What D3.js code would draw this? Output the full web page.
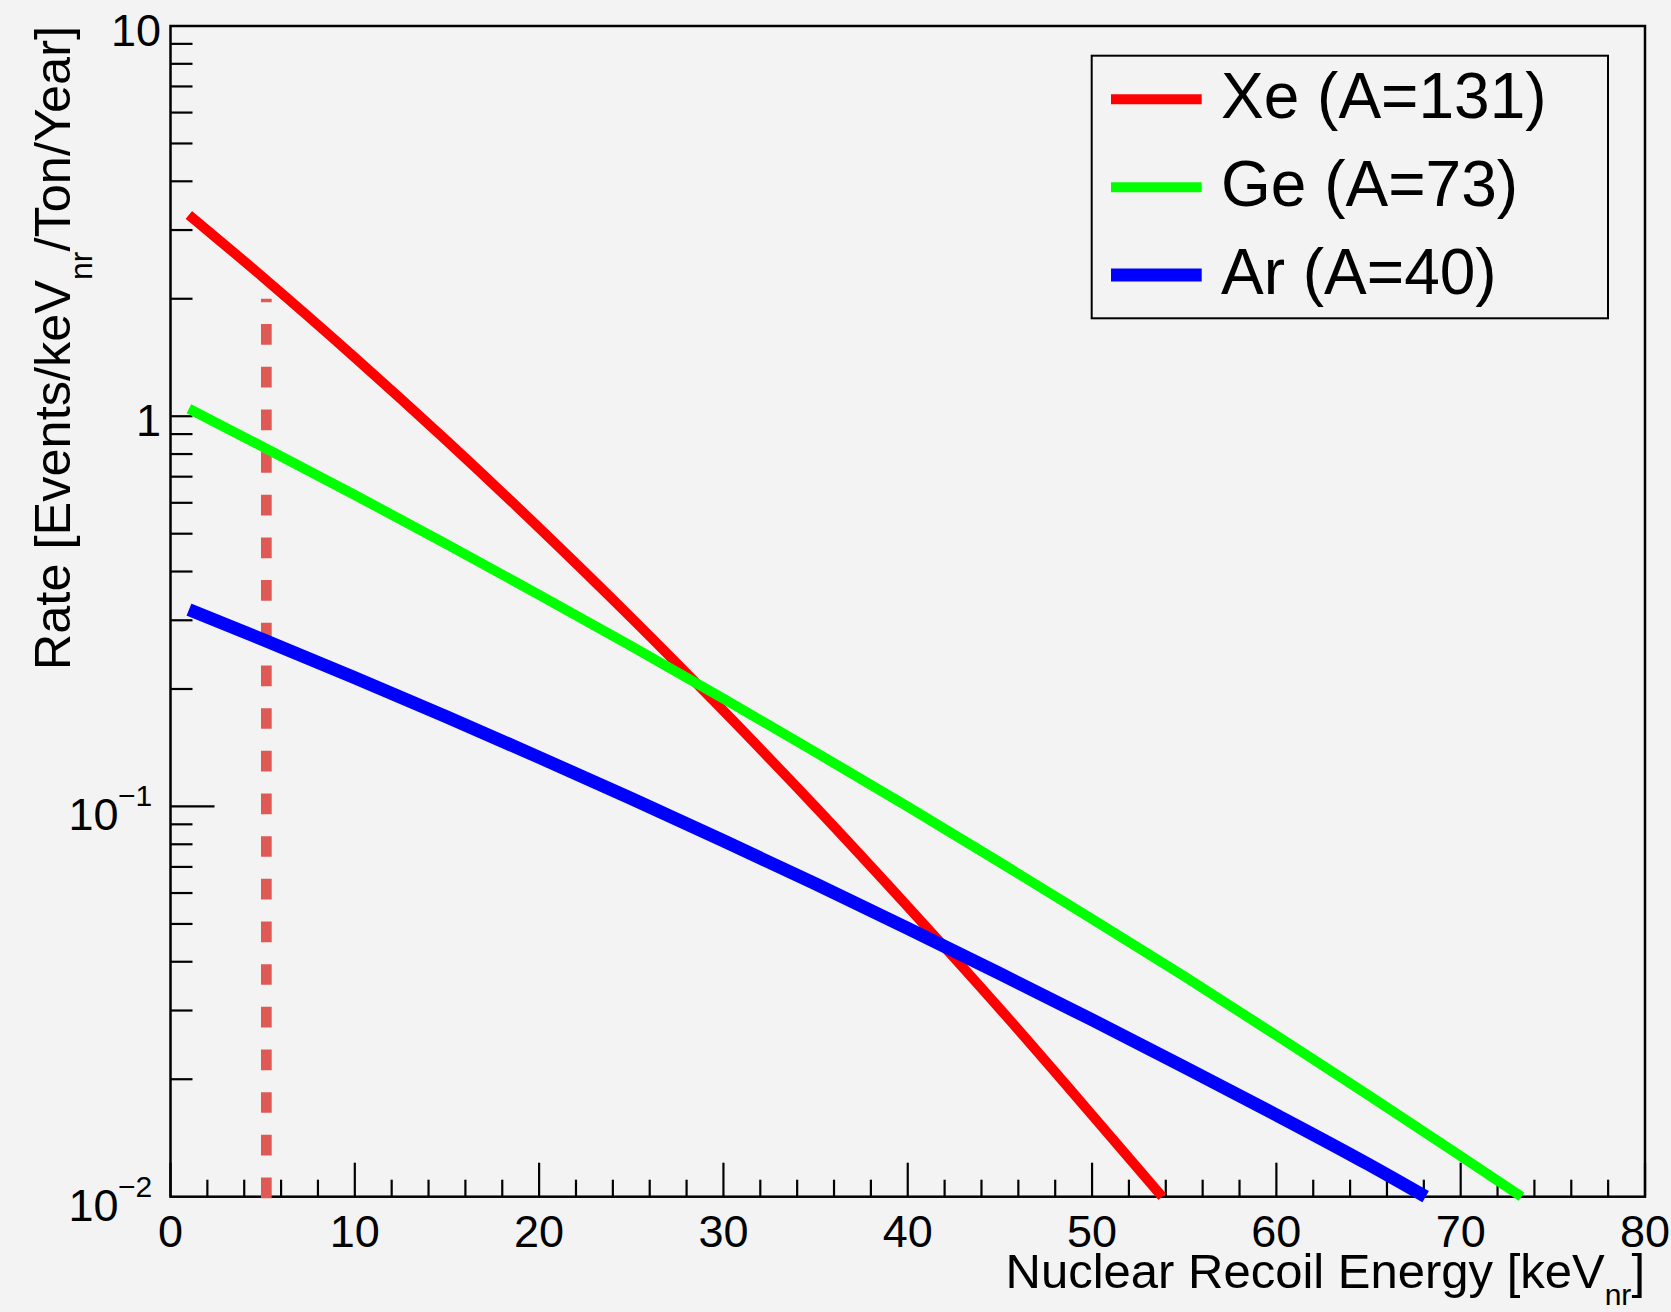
<!DOCTYPE html>
<html>
<head>
<meta charset="utf-8">
<script src="https://cdn.jsdelivr.net/npm/d3@7"></script>
<style>
  html, body { margin: 0; padding: 0; background: #f3f3f3; }
  svg { display: block; }
  text { font-family: "Liberation Sans", Arial, Helvetica, sans-serif; fill: #000; }
</style>
</head>
<body>
<svg id="chart" width="1671" height="1312"></svg>
<script>
// Nuclear recoil spectra (events / keVnr / ton / year) for three target nuclei
const xeEnergy = [1, 5, 10, 15, 20, 25, 30, 35, 40, 45, 50, 53.8];
const xeRate   = [3.28, 2.275, 1.415, 0.864, 0.5176, 0.3046, 0.1758, 0.0997, 0.0554, 0.0303, 0.0162, 0.0100];

const geEnergy = [1, 5, 10, 15, 20, 25, 30, 35, 40, 45, 50, 55, 60, 65, 70, 73.3];
const geRate   = [1.045, 0.8355, 0.6284, 0.4695, 0.3487, 0.2574, 0.1889, 0.1377, 0.0999, 0.0719, 0.0515, 0.0367, 0.0259, 0.0182, 0.0127, 0.0100];

const arEnergy = [1, 5, 10, 15, 20, 25, 30, 35, 40, 45, 50, 55, 60, 65, 68.1];
const arRate   = [0.3194, 0.2679, 0.2137, 0.1696, 0.1336, 0.1048, 0.0817, 0.0633, 0.0487, 0.0373, 0.0284, 0.0215, 0.0162, 0.0121, 0.0100];

const seriesNames  = ["Xe (A=131)", "Ge (A=73)", "Ar (A=40)"];
const seriesColors = ["#ff0000", "#00ff00", "#0000ff"];
const seriesWidths = [10, 10, 13];

// energy threshold marker
const thresholdEnergy = 5.2;
const thresholdRate = 2.0;

const xMajorTicks = [0, 10, 20, 30, 40, 50, 60, 70, 80];
const xMinorTicks = d3.range(0, 81, 2).filter(v => v % 10 !== 0);
const yLabelTicks = [
  { v: 10,   base: "10", exp: null },
  { v: 1,    base: "1",  exp: null },
  { v: 0.1,  base: "10", exp: "\u22121" },
  { v: 0.01, base: "10", exp: "\u22122" }
];

const svg = d3.select("#chart");
const W = 1671, H = 1312;
const frame = { left: 170.5, right: 1645, top: 26, bottom: 1196.7 };

svg.append("rect").attr("width", W).attr("height", H).attr("fill", "#f3f3f3");

const x = d3.scaleLinear().domain([0, 80]).range([frame.left, frame.right]);
const y = d3.scaleLog().domain([0.01, 10]).range([frame.bottom, frame.top]);

const series = [
  { name: seriesNames[0], color: seriesColors[0], width: seriesWidths[0], e: xeEnergy, r: xeRate },
  { name: seriesNames[1], color: seriesColors[1], width: seriesWidths[1], e: geEnergy, r: geRate },
  { name: seriesNames[2], color: seriesColors[2], width: seriesWidths[2], e: arEnergy, r: arRate }
];

// ---- frame ----
svg.append("rect")
  .attr("x", frame.left).attr("y", frame.top)
  .attr("width", frame.right - frame.left).attr("height", frame.bottom - frame.top)
  .attr("fill", "none").attr("stroke", "#000").attr("stroke-width", 2.5);

// ---- x ticks ----
const gx = svg.append("g");
gx.selectAll("line.major").data(xMajorTicks).join("line")
  .attr("class", "major")
  .attr("x1", d => x(d)).attr("x2", d => x(d))
  .attr("y1", frame.bottom).attr("y2", frame.bottom - 34)
  .attr("stroke", "#000").attr("stroke-width", 2.2);
gx.selectAll("line.minor").data(xMinorTicks).join("line")
  .attr("class", "minor")
  .attr("x1", d => x(d)).attr("x2", d => x(d))
  .attr("y1", frame.bottom).attr("y2", frame.bottom - 17)
  .attr("stroke", "#000").attr("stroke-width", 2.2);
gx.selectAll("text").data(xMajorTicks).join("text")
  .attr("x", d => x(d)).attr("y", frame.bottom + 50)
  .attr("text-anchor", "middle").attr("font-size", 45)
  .text(d => d);

// ---- y ticks ----
const yMinor = [];
[0.01, 0.1, 1].forEach(dec => { for (let k = 2; k <= 9; k++) yMinor.push(dec * k); });
const gy = svg.append("g");
gy.selectAll("line.minor").data(yMinor.concat([1])).join("line")
  .attr("class", "minor")
  .attr("x1", frame.left).attr("x2", frame.left + 22)
  .attr("y1", d => y(d)).attr("y2", d => y(d))
  .attr("stroke", "#000").attr("stroke-width", 2.2);
gy.append("line")
  .attr("x1", frame.left).attr("x2", frame.left + 44)
  .attr("y1", y(0.1)).attr("y2", y(0.1))
  .attr("stroke", "#000").attr("stroke-width", 2.2);

yLabelTicks.forEach(t => {
  if (t.exp === null) {
    svg.append("text")
      .attr("x", 161).attr("y", y(t.v) + 20)
      .attr("text-anchor", "end").attr("font-size", 45)
      .text(t.base);
  } else {
    svg.append("text")
      .attr("x", 118.5).attr("y", y(t.v) + 24)
      .attr("text-anchor", "end").attr("font-size", 45)
      .text(t.base);
    svg.append("text")
      .attr("x", 118).attr("y", y(t.v))
      .attr("text-anchor", "start").attr("font-size", 30)
      .text(t.exp);
  }
});

// ---- axis titles ----
const xt = svg.append("text")
  .attr("x", frame.right).attr("y", 1288)
  .attr("text-anchor", "end").attr("font-size", 49);
xt.append("tspan").text("Nuclear Recoil Energy [keV");
xt.append("tspan").attr("font-size", 30).attr("dy", 17).text("nr");
xt.append("tspan").attr("dy", -17).text("]");

const yt = svg.append("text")
  .attr("transform", `translate(70, ${frame.top}) rotate(-90)`)
  .attr("text-anchor", "end").attr("font-size", 50.5);
yt.append("tspan").text("Rate [Events/keV");
yt.append("tspan").attr("font-size", 32).attr("dy", 22).text("nr");
yt.append("tspan").attr("dy", -22).text("/Ton/Year]");

// ---- threshold line ----
svg.append("line")
  .attr("x1", x(thresholdEnergy)).attr("x2", x(thresholdEnergy))
  .attr("y1", y(0.01) + 1.5).attr("y2", y(thresholdRate))
  .attr("stroke", "#e05a55").attr("stroke-width", 10.7)
  .attr("stroke-dasharray", "20.7 21.97");

// ---- spectra ----
const line = d3.line()
  .x(d => x(d[0])).y(d => y(d[1]))
  .curve(d3.curveMonotoneX);

svg.append("g").selectAll("path").data(series).join("path")
  .attr("d", s => line(s.e.map((e, i) => [e, s.r[i]])))
  .attr("fill", "none")
  .attr("stroke", s => s.color)
  .attr("stroke-width", s => s.width)
  .attr("stroke-linecap", "butt")
  .attr("stroke-linejoin", "round");

// ---- legend ----
const leg = { x0: 1091.7, y0: 55.7, x1: 1608, y1: 318.3 };
svg.append("rect")
  .attr("x", leg.x0).attr("y", leg.y0)
  .attr("width", leg.x1 - leg.x0).attr("height", leg.y1 - leg.y0)
  .attr("fill", "#f3f3f3").attr("stroke", "#000").attr("stroke-width", 2);

const rowY = d3.scalePoint().domain(seriesNames).range([99.3, 275]);
const lg = svg.append("g").selectAll("g").data(series).join("g");
lg.append("line")
  .attr("x1", 1111).attr("x2", 1201.7)
  .attr("y1", s => rowY(s.name)).attr("y2", s => rowY(s.name))
  .attr("stroke", s => s.color).attr("stroke-width", s => s.width);
lg.append("text")
  .attr("x", 1221).attr("y", s => rowY(s.name) + 18.7)
  .attr("font-size", 64)
  .text(s => s.name);
</script>
</body>
</html>
